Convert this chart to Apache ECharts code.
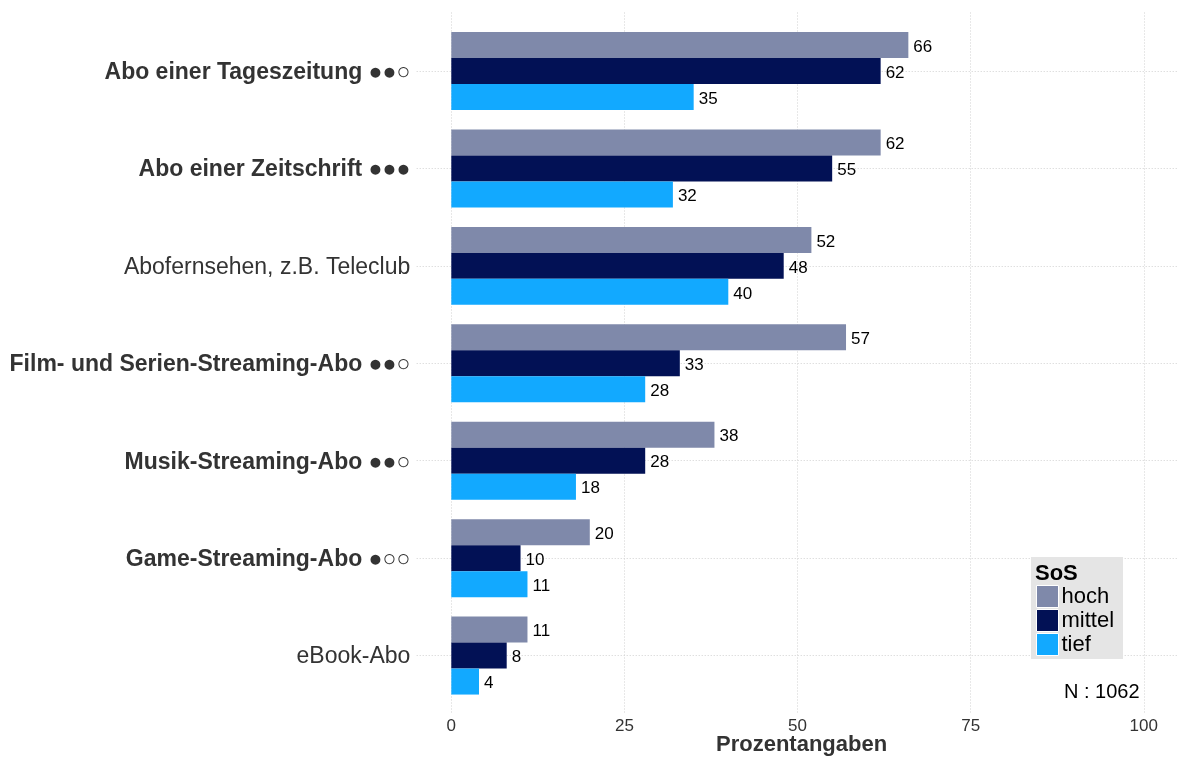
<!DOCTYPE html>
<html>
<head>
<meta charset="utf-8">
<script src="https://cdn.jsdelivr.net/npm/echarts@6/dist/echarts.min.js"></script>
<style>
html,body{margin:0;padding:0;background:#fff;}
#chart{width:1191px;height:758px;}
</style>
</head>
<body>
<div id="chart"></div>
<script>
const categories = [
  'Abo einer Tageszeitung ●●○',
  'Abo einer Zeitschrift ●●●',
  'Abofernsehen, z.B. Teleclub',
  'Film- und Serien-Streaming-Abo ●●○',
  'Musik-Streaming-Abo ●●○',
  'Game-Streaming-Abo ●○○',
  'eBook-Abo'
];
const boldCategories = [true, true, false, true, true, true, false];
const hoch   = [66, 62, 52, 57, 38, 20, 11];
const mittel = [62, 55, 48, 33, 28, 10, 8];
const tief   = [35, 32, 40, 28, 18, 11, 4];
const seriesNames = ['hoch', 'mittel', 'tief'];
const colors = ['#7f89aa', '#021155', '#12a9ff'];
const xMin = 0, xMax = 100, xStep = 25;
const axisTitle = 'Prozentangaben';
const legendTitle = 'SoS';
const nText = 'N : 1062';

const FONT = '"Liberation Sans", Arial, sans-serif';
const chart = echarts.init(document.getElementById('chart'));

const gridLine = {show: true, lineStyle: {color: '#d0d0d0', type: [1, 2], width: 1}};

const valueSets = [hoch, mittel, tief];
const series = seriesNames.map((name, i) => ({
  name: name,
  type: 'bar',
  xAxisIndex: 0,
  yAxisIndex: 0,
  data: valueSets[i],
  barGap: '0%',
  barCategoryGap: '20%',
  itemStyle: {color: colors[i]},
  label: {
    show: true, position: 'right', distance: 5,
    color: '#000', fontFamily: FONT, fontSize: 17, offset: [0, 2]
  },
  z: 3
}));

chart.setOption({
  animation: false,
  backgroundColor: '#fff',
  grid: [
    {left: 451.3, right: 47.2, top: 22.3, bottom: 53.7},
    {left: 451.3, right: 47.2, top: 12.5, bottom: 44},
    {left: 416.7, right: 12.6, top: 71, bottom: 102.5}
  ],
  xAxis: [
    {type: 'value', gridIndex: 0, min: xMin, max: xMax, show: false},
    {type: 'value', gridIndex: 1, min: xMin, max: xMax, interval: xStep,
     axisLine: {show: false}, axisTick: {show: false},
     splitLine: gridLine,
     axisLabel: {color: '#333', fontFamily: FONT, fontSize: 17, margin: 4}},
    {type: 'value', gridIndex: 2, min: 0, max: 1, show: false}
  ],
  yAxis: [
    {type: 'category', gridIndex: 0, data: categories, inverse: true,
     axisLine: {show: false}, axisTick: {show: false}, splitLine: {show: false},
     axisLabel: {
       margin: 41, fontFamily: FONT, fontSize: 23, color: '#333',
       formatter: function (v, idx) {
         return boldCategories[idx] ? '{b|' + v + '}' : '{n|' + v + '}';
       },
       rich: {
         b: {fontFamily: FONT, fontSize: 23, fontWeight: 'bold', color: '#333', padding: [3, 0, 0, 0]},
         n: {fontFamily: FONT, fontSize: 23, color: '#333', padding: [3, 0, 0, 0]}
       }
     }},
    {type: 'value', gridIndex: 1, min: 0, max: 1, show: false},
    {type: 'value', gridIndex: 2, min: 1, max: categories.length, interval: 1, inverse: true,
     axisLine: {show: false}, axisTick: {show: false}, axisLabel: {show: false},
     splitLine: gridLine}
  ],
  legend: {
    orient: 'vertical',
    left: 1036, top: 585,
    itemWidth: 22, itemHeight: 22, itemGap: 1,
    padding: 0,
    icon: 'rect',
    textStyle: {fontFamily: FONT, fontSize: 22, color: '#000', lineHeight: 22, padding: [0, 0, 0, -2]},
    data: seriesNames.map((n, i) => ({name: n, itemStyle: {color: colors[i], borderColor: '#fff', borderWidth: 1}})),
    selectedMode: false,
    z: 10
  },
  graphic: [
    {type: 'rect', left: 1031, top: 557, shape: {width: 92, height: 102}, style: {fill: '#e5e5e5'}, z: 5},
    {type: 'text', left: 1035, top: 563, style: {text: legendTitle, fontFamily: FONT, fontSize: 22, fontWeight: 'bold', fill: '#000'}, z: 6},
    {type: 'text', left: 1064, top: 682, style: {text: nText, fontFamily: FONT, fontSize: 20, fill: '#000'}, z: 6},
    {type: 'text', left: 716, top: 734, style: {text: axisTitle, fontFamily: FONT, fontSize: 22, fontWeight: 'bold', fill: '#333'}, z: 6}
  ],
  series: series
});
</script>
</body>
</html>
